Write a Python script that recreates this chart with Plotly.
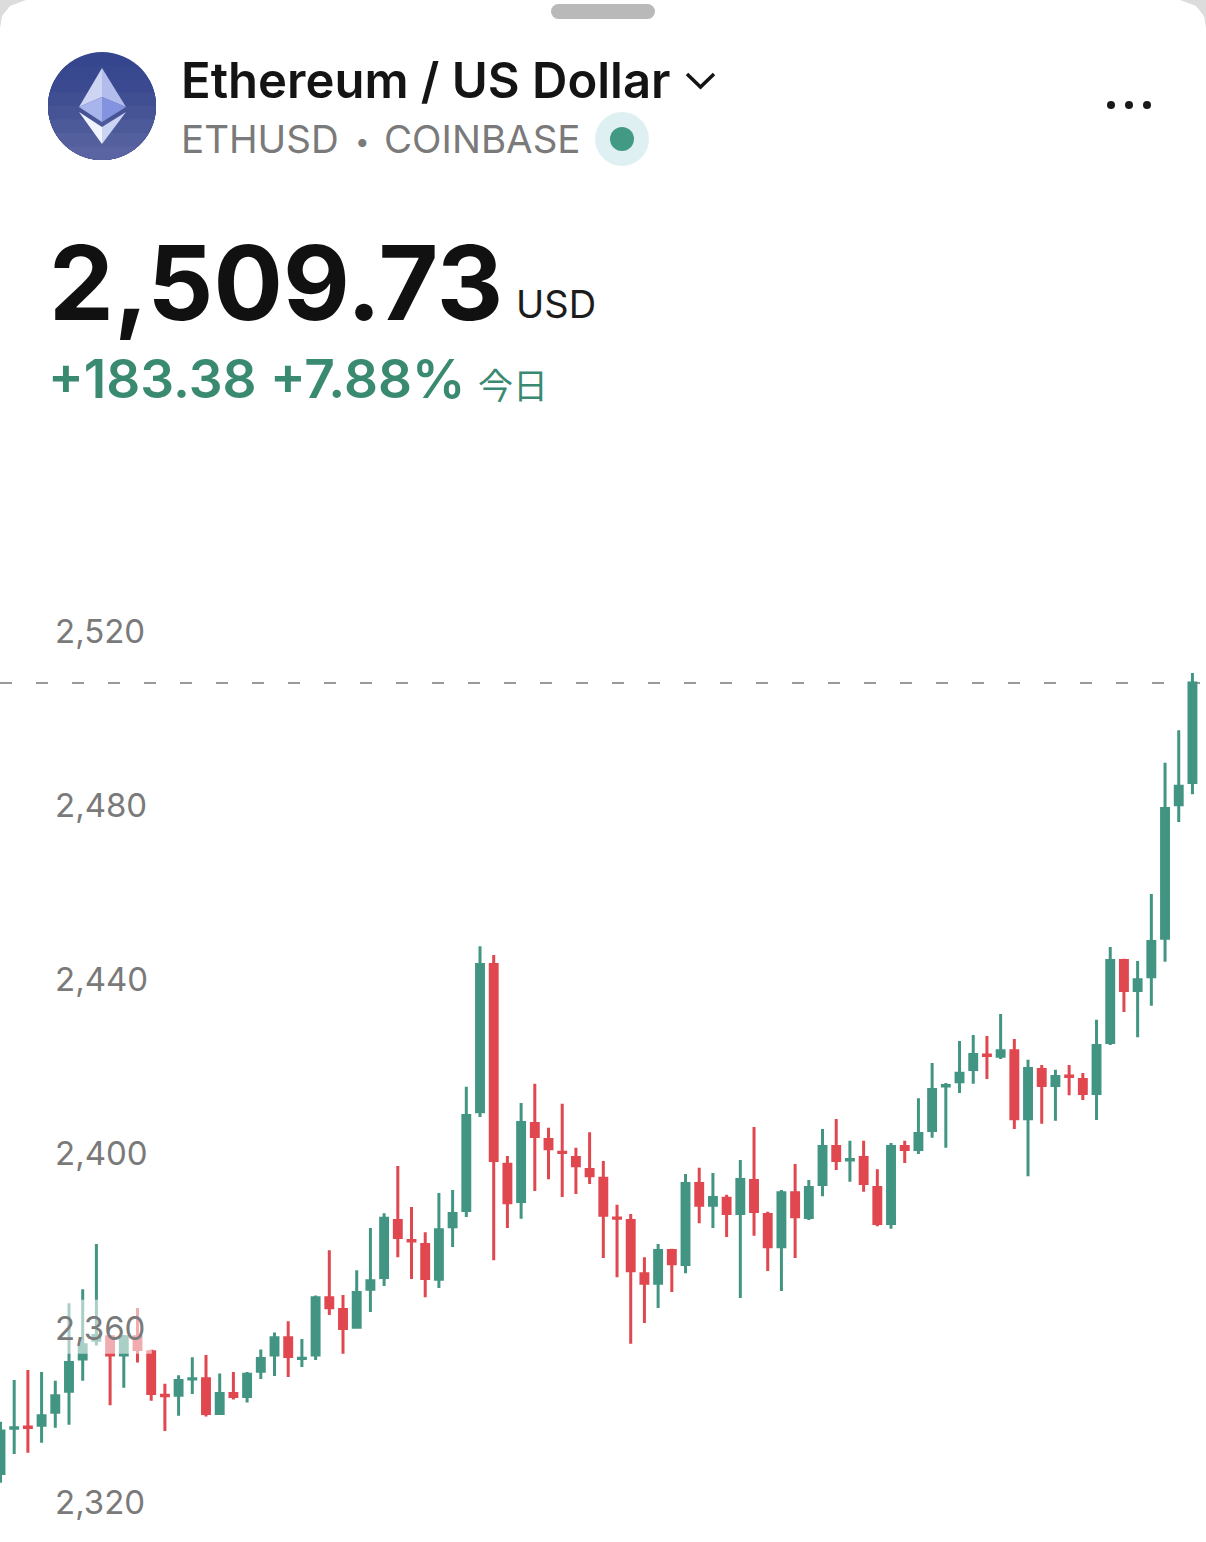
import math
import plotly.graph_objects as go

W, H = 1206, 1542

GREEN = "#429582"
RED = "#e0474f"
TEXT_GREEN = "#3a8a72"
GREY = "#7a7a7a"

TICKS = [2320, 2360, 2400, 2440, 2480, 2520]
LAST_PRICE = 2509.73

# candles, oldest first
opens = [
    2328.2, 2338.6, 2338.9, 2339.3, 2342.3, 2347.1, 2354.5, 2358.8, 2359.6, 2355.4, 2359.6,
    2356.2, 2346.2, 2346.2, 2349.9, 2350.0, 2342.0, 2346.6, 2345.9, 2351.7, 2355.4, 2359.4,
    2354.6, 2355.4, 2368.6, 2365.9, 2361.8, 2370.5, 2373.2, 2386.3, 2381.7, 2380.8, 2372.8,
    2384.9, 2388.6, 2411.3, 2445.1, 2399.2, 2390.7, 2408.6, 2404.9, 2402.0, 2400.8, 2398.0,
    2396.0, 2386.9, 2386.3, 2374.1, 2371.9, 2379.4, 2376.2, 2394.8, 2389.8, 2391.4, 2387.9,
    2395.5, 2387.7, 2380.3, 2392.7, 2387.0, 2394.6, 2403.3, 2400.2, 2400.8, 2393.9, 2385.6,
    2403.3, 2402.6, 2407.0, 2417.2, 2418.2, 2421.0, 2424.3, 2424.0, 2425.3, 2409.7, 2421.0,
    2417.3, 2419.5, 2418.7, 2415.5, 2427.2, 2446.0, 2439.1, 2442.3, 2451.1, 2481.8, 2486.9,
]
highs = [
    2340.1, 2349.7, 2352.0, 2351.5, 2349.5, 2367.3, 2370.5, 2380.9, 2360.0, 2360.0, 2366.2,
    2356.7, 2348.8, 2350.8, 2354.9, 2355.4, 2351.2, 2351.5, 2351.5, 2356.7, 2360.6, 2363.2,
    2359.1, 2369.1, 2379.5, 2369.2, 2374.9, 2384.6, 2388.0, 2398.8, 2389.4, 2383.6, 2392.6,
    2393.3, 2417.0, 2449.3, 2447.3, 2401.1, 2413.3, 2417.7, 2407.6, 2413.1, 2403.0, 2406.6,
    2400.0, 2389.9, 2387.8, 2377.9, 2380.9, 2379.8, 2397.0, 2398.4, 2397.2, 2392.2, 2400.2,
    2407.8, 2388.3, 2393.3, 2399.3, 2395.6, 2407.3, 2409.6, 2404.6, 2404.6, 2398.1, 2404.1,
    2404.6, 2414.4, 2422.5, 2417.9, 2427.5, 2428.9, 2428.7, 2433.7, 2428.0, 2423.2, 2422.0,
    2420.9, 2422.0, 2420.2, 2432.4, 2449.1, 2446.4, 2445.9, 2461.3, 2491.4, 2498.9, 2512.0,
]
lows = [
    2326.1, 2332.7, 2333.0, 2335.3, 2338.7, 2339.4, 2349.5, 2357.6, 2343.9, 2347.9, 2353.7,
    2344.9, 2338.0, 2341.5, 2346.5, 2341.3, 2342.0, 2345.2, 2344.5, 2349.9, 2350.6, 2350.4,
    2352.7, 2354.3, 2364.6, 2355.7, 2361.5, 2365.3, 2371.3, 2377.9, 2372.9, 2368.7, 2370.8,
    2380.2, 2387.1, 2410.1, 2377.2, 2384.6, 2386.7, 2393.1, 2395.8, 2391.7, 2392.4, 2394.7,
    2377.7, 2373.3, 2358.0, 2362.8, 2366.2, 2369.9, 2374.2, 2385.7, 2384.6, 2382.5, 2368.5,
    2382.8, 2374.7, 2370.1, 2377.7, 2386.4, 2391.9, 2397.9, 2395.2, 2392.9, 2385.0, 2384.4,
    2399.5, 2401.6, 2405.3, 2403.0, 2415.6, 2417.7, 2418.8, 2423.4, 2407.3, 2396.5, 2408.5,
    2409.2, 2415.1, 2414.0, 2409.4, 2426.6, 2434.2, 2428.4, 2435.6, 2445.7, 2477.8, 2484.2,
]
closes = [
    2338.0, 2338.7, 2338.8, 2341.5, 2346.1, 2353.7, 2357.8, 2359.9, 2355.4, 2359.6, 2356.7,
    2346.6, 2346.1, 2349.6, 2350.0, 2342.0, 2346.6, 2345.9, 2351.0, 2354.6, 2359.4, 2355.1,
    2354.7, 2368.6, 2366.3, 2361.5, 2369.8, 2372.5, 2386.8, 2382.4, 2381.6, 2373.0, 2384.2,
    2387.9, 2410.4, 2445.1, 2400.1, 2390.4, 2408.8, 2405.6, 2402.8, 2401.9, 2398.9, 2396.6,
    2387.5, 2386.8, 2374.8, 2371.9, 2379.4, 2376.4, 2394.8, 2389.8, 2391.6, 2387.9, 2395.7,
    2388.4, 2380.3, 2392.7, 2387.2, 2393.9, 2403.3, 2400.1, 2400.3, 2394.8, 2385.6, 2403.3,
    2402.6, 2406.3, 2416.4, 2417.3, 2420.1, 2424.4, 2424.2, 2425.3, 2409.7, 2421.2, 2417.3,
    2419.4, 2419.4, 2415.5, 2426.5, 2446.0, 2439.1, 2441.6, 2450.4, 2480.9, 2486.0, LAST_PRICE,
]
candle_idx = list(range(len(closes)))


def px(x):
    return x / W


def py(y):
    return 1 - y / H


def path(points):
    return "M" + " L".join(f"{px(x):.5f},{py(y):.5f}" for x, y in points) + " Z"


def poly(points, color):
    return dict(type="path", xref="paper", yref="paper", path=path(points),
                fillcolor=color, line_width=0)


def ellipse(cx, cy, rx, ry, color):
    return dict(type="circle", xref="paper", yref="paper", x0=px(cx - rx), x1=px(cx + rx),
                y0=py(cy + ry), y1=py(cy - ry), fillcolor=color, line_width=0)


def label(x, y, text, size, color, family="Inter", weight=400, anchor="left"):
    return dict(xref="paper", yref="paper", x=px(x), y=py(y), text=text, showarrow=False,
                xanchor=anchor, yanchor="middle", borderpad=0,
                font=dict(family=family, size=size, color=color, weight=weight))


fig = go.Figure()
fig.add_trace(go.Candlestick(
    x=candle_idx, open=opens, high=highs, low=lows, close=closes,
    increasing=dict(line=dict(color=GREEN, width=3), fillcolor=GREEN),
    decreasing=dict(line=dict(color=RED, width=3), fillcolor=RED),
    whiskerwidth=0, showlegend=False,
))
# white wash behind the 2,360 label
fig.add_trace(go.Scatter(
    x=[3.45, 11.05, 11.05, 3.45, 3.45], y=[2355.7, 2355.7, 2368.1, 2368.1, 2355.7],
    mode="lines", fill="toself", fillcolor="rgba(255,255,255,0.55)", line_width=0,
    hoverinfo="skip", showlegend=False,
))

shapes = [
    dict(type="line", xref="paper", yref="y", x0=0, x1=1, y0=LAST_PRICE, y1=LAST_PRICE, layer="below",
         line=dict(color="#999999", width=2, dash="12px,24px")),
    # sheet corners and grab handle
    poly([(0, 0), (26, 0), (10, 6), (2, 16), (0, 28)], "#dcdcdc"),
    poly([(1206, 0), (1180, 0), (1196, 6), (1204, 16), (1206, 28)], "#dcdcdc"),
    dict(type="rect", xref="paper", yref="paper", x0=px(558), x1=px(648), y0=py(19), y1=py(4),
         fillcolor="#b9b9b9", line_width=0),
    ellipse(558.5, 11.5, 7.5, 7.5, "#b9b9b9"),
    ellipse(647.5, 11.5, 7.5, 7.5, "#b9b9b9"),
    # status dot
    ellipse(622, 139, 27, 27, "#dff0f3"),
    ellipse(622, 139, 12, 12, "#439a84"),
    # menu dots
    ellipse(1111, 105, 4, 4, "#1a1a1a"),
    ellipse(1129, 105, 4, 4, "#1a1a1a"),
    ellipse(1147, 105, 4, 4, "#1a1a1a"),
    # dropdown chevron
    dict(type="path", xref="paper", yref="paper",
         path=f"M{px(687):.5f},{py(74):.5f} L{px(700.5):.5f},{py(87):.5f} L{px(714):.5f},{py(74):.5f}",
         line=dict(color="#141414", width=3.5)),
]

# logo disc, lighter towards the bottom
LOGO_X, LOGO_Y, LOGO_R = 102, 106, 54
LOGO_BANDS = ["#36468e", "#38488f", "#3b4a90", "#404e92", "#465395", "#4d5a9a", "#545f9e", "#5a64a2"]
for i, c in enumerate(LOGO_BANDS):
    top = LOGO_Y - LOGO_R + 2 * LOGO_R * i / len(LOGO_BANDS)
    start = math.asin(max(-1, (top - LOGO_Y) / LOGO_R))
    steps = [start + (math.pi / 2 - start) * k / 30 for k in range(31)]
    right = [(LOGO_X + LOGO_R * math.cos(t), LOGO_Y + LOGO_R * math.sin(t)) for t in steps]
    left = [(2 * LOGO_X - a, b) for a, b in reversed(right)]
    shapes.append(poly(right + left, c))

shapes += [
    poly([(102, 68), (79, 107), (102, 97)], "#cdd5f3"),
    poly([(102, 68), (126, 107), (102, 97)], "#b3bdec"),
    poly([(102, 97), (79, 107), (102, 122)], "#a8b4ec"),
    poly([(102, 97), (126, 107), (102, 122)], "#8493e0"),
    poly([(79, 112), (102, 127), (102, 144)], "#f1f4fd"),
    poly([(126, 112), (102, 127), (102, 144)], "#cbd4f5"),
]

annotations = [
    label(180, 80, "Ethereum / US Dollar", 49, "#141414", weight=600),
    label(180, 139, "ETHUSD", 38.5, GREY),
    label(354, 141, "•", 26, GREY),
    label(383, 139, "COINBASE", 38.5, GREY),
    label(48, 282, "2,509.73", 103, "#111111", weight=700),
    label(515, 304, "USD", 38, "#1c1c1c"),
    label(47, 378, "+183.38 +7.88%", 53.2, TEXT_GREEN, weight=600),
    label(477, 383, "今日", 35, TEXT_GREEN, family="Noto Sans CJK JP"),
]

fig.update_layout(
    width=W, height=H, autosize=False,
    margin=dict(l=0, r=0, t=0, b=0, pad=0),
    paper_bgcolor="white", plot_bgcolor="white",
    boxgap=0.28,
    showlegend=False,
    shapes=shapes, annotations=annotations,
    xaxis=dict(visible=False, range=[-0.036, 87.99], rangeslider=dict(visible=False)),
    yaxis=dict(
        range=[2312.49, 2666.56], tickvals=TICKS, tickformat=",d",
        showgrid=False, zeroline=False, showline=False, ticks="",
        ticklabelposition="inside", ticklabelstandoff=52, ticklabelshift=-7,
        tickfont=dict(family="Inter", size=33, color=GREY),
    ),
)

fig.write_html("out.html", config=dict(displayModeBar=False),
               post_script="document.body.style.margin='0';document.body.style.overflow='hidden';")
